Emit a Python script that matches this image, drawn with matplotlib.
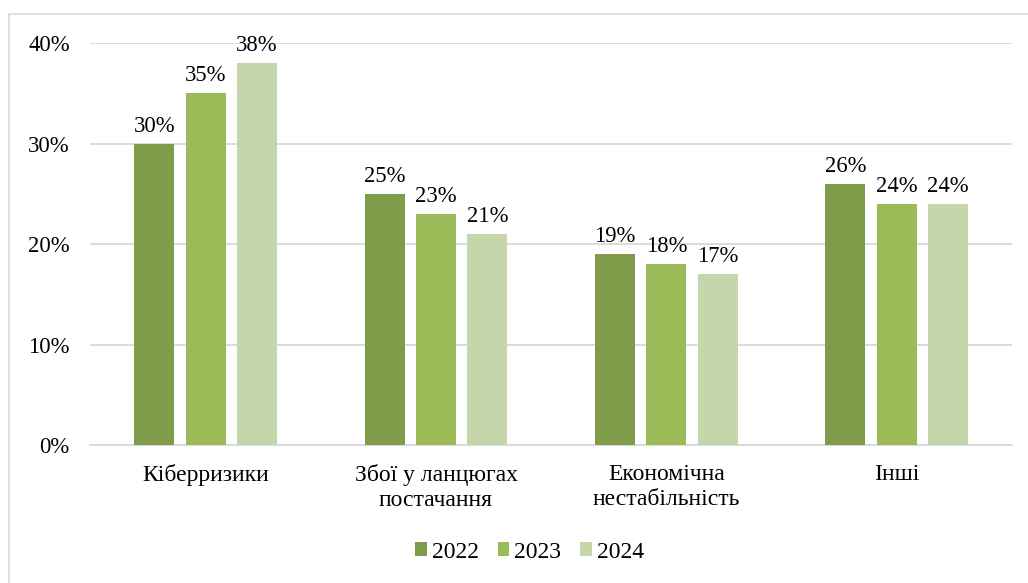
import numpy as np
import matplotlib.pyplot as plt
from matplotlib.patches import Rectangle

FONT = 'Liberation Serif'
plt.rcParams['font.family'] = [FONT, 'DejaVu Serif']

# Дані
categories = ['Кіберризики', 'Збої у ланцюгах\nпостачання', 'Економічна\nнестабільність', 'Інші']
years = ['2022', '2023', '2024']
v2022 = [30, 25, 19, 26]
v2023 = [35, 23, 18, 24]
v2024 = [38, 21, 17, 24]
colors = ['#7F9C4B', '#9BBB59', '#C6D6AB']

fig = plt.figure(figsize=(10.28, 5.83), dpi=100)
ax = fig.add_axes([0.0880, 0.2367, 0.8964, 0.6893])

# рамка навколо діаграми
fig.patches.append(Rectangle((9/1028, -0.01), 1.0, 1 - 14/583 + 0.01, transform=fig.transFigure,
                             fill=False, edgecolor='#D9D9D9', linewidth=1.2))

x = np.arange(len(categories))
width = 0.173
step = 0.223
for i, (vals, col, yr) in enumerate(zip([v2022, v2023, v2024], colors, years)):
    pos = x + (i - 1) * step
    bars = ax.bar(pos, np.array(vals) / 100, width, color=col, label=yr, zorder=3)
    for b, v in zip(bars, vals):
        ax.annotate(f'{v}%', (b.get_x() + b.get_width() / 2, b.get_height()),
                    xytext=(0, 5), textcoords='offset points', ha='center', va='bottom',
                    fontsize=16.3, family=FONT, color='#000000')

ax.set_xlim(-0.5, len(categories) - 0.5)
ax.set_ylim(0, 0.4)
ax.set_yticks([0, 0.1, 0.2, 0.3, 0.4])
ax.set_yticklabels(['0%', '10%', '20%', '30%', '40%'], fontsize=16.3, family=FONT)
ax.set_xticks(x)
ax.set_xticklabels(categories, fontsize=17, family=FONT, linespacing=1.25)
ax.tick_params(axis='both', length=0)
ax.tick_params(axis='x', pad=14)
ax.tick_params(axis='y', pad=15)
ax.grid(axis='y', color='#D9D9D9', linewidth=1.3, zorder=0)
for s in ['top', 'right', 'left']:
    ax.spines[s].set_visible(False)
ax.spines['bottom'].set_color('#D9D9D9')
ax.spines['bottom'].set_linewidth(1.3)

fig.legend(loc='center', bbox_to_anchor=(0.515, 0.053), ncol=3, frameon=False,
           prop={'family': FONT, 'size': 17}, handlelength=0.5, handleheight=0.5,
           handletextpad=0.2, columnspacing=0.8)

plt.savefig('out.png', dpi=100)
